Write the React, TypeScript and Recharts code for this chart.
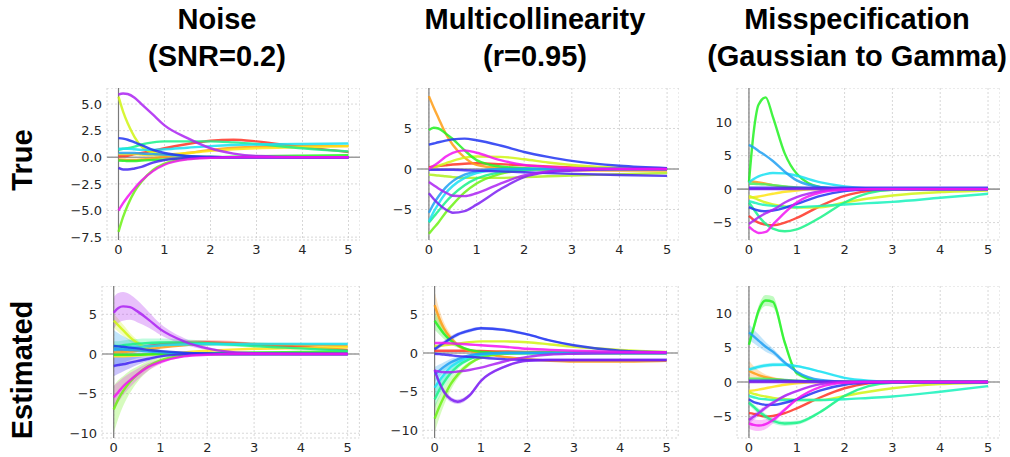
import {
  Area,
  CartesianGrid,
  ComposedChart,
  Line,
  ReferenceLine,
  XAxis,
  YAxis,
} from "recharts";

// shared time grid (x axis)
const xs = [0, 0.1, 0.2, 0.35, 0.5, 0.75, 1, 1.5, 2, 2.5, 3, 4, 5];
const xTicks = [0, 1, 2, 3, 4, 5];

const colTitles = [
  ["Noise", "(SNR=0.2)"],
  ["Multicollinearity", "(r=0.95)"],
  ["Misspecification", "(Gaussian to Gamma)"],
];
const rowTitles = ["True", "Estimated"];

// Noise, true
const noiseTrue: Record<string, number[]> = {
  red: [0.1, 0.12, 0.15, 0.3, 0.4, 0.6, 0.85, 1.25, 1.55, 1.65, 1.5, 0.95, 0.5],
  orange: [-0.2, -0.22, -0.25, -0.25, -0.2, -0.1, 0.05, 0.4, 0.7, 0.9, 1.0, 1.05, 1.05],
  yellow: [0.3, 0.3, 0.3, 0.3, 0.25, 0.2, 0.25, 0.4, 0.6, 0.75, 0.85, 0.95, 1.05],
  yellowgreen: [5.7, 4.3, 3.2, 1.9, 1.0, 0.45, 0.25, 0.1, 0.05, 0, 0, 0, 0],
  lime: [-7.0, -5.6, -4.5, -3.2, -2.3, -1.2, -0.6, -0.15, 0, 0, 0, 0, 0],
  green: [-0.3, -0.32, -0.35, -0.35, -0.3, -0.25, -0.2, -0.1, 0, 0.05, 0.1, 0.15, 0.2],
  spring: [0.7, 0.8, 0.85, 1.0, 1.2, 1.4, 1.5, 1.5, 1.5, 1.4, 1.25, 0.85, 0.55],
  cyan: [0.8, 0.8, 0.8, 0.75, 0.7, 0.7, 0.75, 0.9, 1.05, 1.15, 1.2, 1.25, 1.3],
  sky: [0.4, 0.4, 0.4, 0.4, 0.35, 0.3, 0.25, 0.1, 0.05, 0, 0, 0, 0],
  blue: [1.8, 1.75, 1.65, 1.4, 1.15, 0.7, 0.4, 0.12, 0.03, 0, 0, 0, 0],
  indigo: [-1.0, -1.15, -1.15, -1.05, -0.9, -0.5, -0.25, -0.05, 0, 0, 0, 0, 0],
  purple: [5.9, 6.0, 5.95, 5.6, 5.0, 4.0, 3.0, 1.8, 0.85, 0.35, 0.12, 0.02, 0],
  magenta: [-5.0, -4.3, -3.7, -2.9, -2.2, -1.3, -0.7, -0.2, -0.05, 0, 0, 0, 0],
};

// Multicollinearity, true
const multiTrue: Record<string, number[]> = {
  red: [0.2, 0.3, 0.35, 0.45, 0.55, 0.65, 0.7, 0.6, 0.45, 0.3, 0.2, 0.05, 0],
  orange: [9.0, 7.6, 6.3, 4.4, 3.0, 1.4, 0.5, 0.1, 0, -0.1, -0.15, -0.2, -0.2],
  yellowgreen: [0, 0.2, 0.4, 0.7, 1.0, 1.4, 1.55, 1.5, 1.2, 0.8, 0.5, 0.15, 0],
  chartreuse: [-0.7, -0.75, -0.8, -0.9, -1.0, -1.1, -1.1, -1.1, -1.0, -0.9, -0.8, -0.65, -0.5],
  lime: [-8.0, -7.3, -6.6, -5.4, -4.4, -2.9, -1.8, -0.6, -0.15, 0, 0, 0, 0],
  green: [4.8, 5.1, 5.0, 4.4, 3.7, 2.3, 1.1, 0.3, 0.1, 0, 0, 0, 0],
  spring: [-6.6, -5.9, -5.2, -4.1, -3.2, -2.0, -1.2, -0.4, -0.1, 0, 0, 0, 0],
  cyan: [-6.5, -5.3, -4.3, -3.0, -2.1, -1.1, -0.5, -0.1, 0, 0, 0, 0, 0],
  sky: [-5.4, -4.3, -3.4, -2.3, -1.5, -0.7, -0.3, 0, 0, 0, 0, 0, 0],
  blue: [3.0, 3.15, 3.3, 3.5, 3.65, 3.75, 3.55, 2.9, 2.1, 1.5, 1.0, 0.4, 0.1],
  indigo: [-0.1, -0.1, -0.1, -0.1, -0.1, -0.15, -0.2, -0.3, -0.4, -0.5, -0.6, -0.75, -0.85],
  violet: [-3.0, -3.7, -4.3, -5.0, -5.4, -5.2, -4.4, -2.5, -1.0, -0.4, -0.2, 0, 0],
  purple: [-1.6, -2.0, -2.4, -2.9, -3.3, -3.35, -3.0, -1.8, -0.8, -0.3, -0.1, 0, 0],
  magenta: [0, 0.4, 0.8, 1.5, 2.0, 2.3, 2.0, 1.1, 0.5, 0.25, 0.1, 0, 0],
};

// Misspecification, true
const misTrue: Record<string, number[]> = {
  red: [-4.0, -4.6, -5.0, -5.3, -5.4, -5.0, -4.3, -2.5, -1.0, -0.3, -0.1, 0, 0],
  orange: [1.2, 1.1, 1.0, 0.8, 0.6, 0.35, 0.15, 0, 0, 0, 0, 0, 0],
  yellow: [-1.3, -1.2, -1.1, -0.9, -0.7, -0.4, -0.2, 0, 0, 0, 0, 0, 0],
  yellowgreen: [-1.0, -1.3, -1.6, -2.0, -2.3, -2.6, -2.75, -2.7, -2.0, -1.4, -0.95, -0.45, -0.2],
  green: [1.0, 8.6, 12.6, 13.7, 10.8, 5.3, 2.3, 0.3, 0.05, 0, 0, 0, 0],
  lightgreen: [0.8, 0.8, 0.75, 0.7, 0.6, 0.4, 0.25, 0.05, 0, 0, 0, 0, 0],
  spring: [-2.0, -3.0, -4.0, -5.2, -5.9, -6.3, -6.0, -4.2, -2.0, -0.6, -0.1, 0, 0],
  teal: [-1.8, -2.0, -2.2, -2.4, -2.5, -2.65, -2.7, -2.5, -2.3, -2.1, -1.9, -1.3, -0.7],
  cyan: [1.0, 1.5, 1.9, 2.25, 2.4, 2.35, 2.0, 1.0, 0.4, 0.1, 0, 0, 0],
  sky: [6.6, 6.2, 5.7, 5.0, 4.2, 2.6, 1.3, 0.3, 0.05, 0, 0, 0, 0],
  blue: [-2.7, -3.0, -3.2, -3.3, -3.2, -2.8, -2.2, -1.0, -0.3, -0.05, 0, 0, 0],
  indigo: [0.2, 0.2, 0.2, 0.2, 0.2, 0.2, 0.2, 0.2, 0.2, 0.2, 0.2, 0.2, 0.2],
  violet: [0, 0, 0, 0, 0, 0, 0, 0, 0, 0, 0, 0, 0],
  purple: [-5.2, -4.7, -4.2, -3.6, -3.1, -2.0, -1.2, -0.3, 0, 0, 0, 0, 0],
  magenta: [-5.6, -6.2, -6.55, -6.4, -5.3, -3.5, -2.0, -0.5, -0.1, 0, 0, 0, 0],
};

// Noise, estimated
const noiseEst: Record<string, number[]> = {
  red: [0.5, 0.55, 0.6, 0.7, 0.8, 1.0, 1.2, 1.4, 1.45, 1.4, 1.2, 0.9, 0.5],
  orange: [0.2, 0.2, 0.25, 0.3, 0.4, 0.6, 0.8, 1.1, 1.25, 1.3, 1.25, 1.15, 1.0],
  yellow: [-0.3, -0.3, -0.3, -0.25, -0.2, -0.1, 0, 0.2, 0.4, 0.55, 0.65, 0.75, 0.85],
  yellowgreen: [4.2, 3.6, 3.0, 2.1, 1.4, 0.6, 0.3, 0.1, 0, 0, 0, 0, 0],
  lime: [-7.0, -5.7, -4.7, -3.5, -2.6, -1.5, -0.8, -0.2, 0, 0, 0, 0, 0],
  green: [-0.1, -0.1, -0.1, -0.1, -0.1, -0.05, 0, 0.05, 0.1, 0.15, 0.2, 0.25, 0.3],
  spring: [1.0, 1.0, 1.1, 1.2, 1.3, 1.4, 1.45, 1.45, 1.35, 1.2, 1.0, 0.7, 0.4],
  cyan: [0.5, 0.6, 0.65, 0.75, 0.85, 1.0, 1.1, 1.2, 1.25, 1.25, 1.25, 1.25, 1.25],
  sky: [0.6, 0.6, 0.55, 0.5, 0.45, 0.3, 0.2, 0.05, 0, 0, 0, 0, 0],
  blue: [1.0, 0.95, 0.9, 0.8, 0.7, 0.5, 0.35, 0.15, 0.05, 0, 0, 0, 0],
  indigo: [-1.5, -1.4, -1.3, -1.1, -0.9, -0.6, -0.3, -0.05, 0, 0, 0, 0, 0],
  purple: [5.2, 5.8, 6.0, 5.9, 5.4, 4.3, 3.1, 1.6, 0.7, 0.25, 0.08, 0, 0],
  magenta: [-5.5, -4.8, -4.1, -3.3, -2.6, -1.6, -1.0, -0.3, -0.1, 0, 0, 0, 0],
};
const noiseSpread: Record<string, number[]> = {
  red: [0.3, 0.3, 0.3, 0.3, 0.3, 0.3, 0.3, 0.3, 0.3, 0.25, 0.2, 0.15, 0.1],
  yellowgreen: [0.9, 0.8, 0.7, 0.55, 0.4, 0.25, 0.15, 0.05, 0, 0, 0, 0, 0],
  lime: [3.0, 2.4, 1.9, 1.4, 1.0, 0.6, 0.35, 0.1, 0.05, 0, 0, 0, 0],
  spring: [0.6, 0.6, 0.6, 0.6, 0.6, 0.55, 0.5, 0.4, 0.3, 0.25, 0.2, 0.15, 0.1],
  cyan: [0.4, 0.4, 0.4, 0.35, 0.35, 0.3, 0.3, 0.25, 0.2, 0.2, 0.15, 0.15, 0.15],
  sky: [2.4, 2.0, 1.7, 1.3, 1.0, 0.6, 0.35, 0.1, 0.05, 0, 0, 0, 0],
  indigo: [1.3, 1.1, 0.9, 0.7, 0.5, 0.3, 0.15, 0.05, 0, 0, 0, 0, 0],
  purple: [2.0, 1.9, 1.8, 1.6, 1.4, 1.0, 0.7, 0.4, 0.2, 0.1, 0.05, 0, 0],
  magenta: [1.5, 1.3, 1.1, 0.9, 0.7, 0.45, 0.3, 0.1, 0.05, 0, 0, 0, 0],
};

// Multicollinearity, estimated
const multiEst: Record<string, number[]> = {
  red: [0.3, 0.3, 0.3, 0.3, 0.3, 0.3, 0.25, 0.2, 0.15, 0.1, 0.05, 0, 0],
  orange: [6.2, 4.5, 3.2, 1.9, 1.0, 0.3, 0, -0.5, -0.8, -1.0, -1.1, -1.1, -1.0],
  yellowgreen: [0.9, 0.9, 1.0, 1.1, 1.2, 1.4, 1.5, 1.5, 1.4, 1.1, 0.8, 0.4, 0.15],
  lime: [-8.5, -7.0, -5.7, -4.0, -2.8, -1.4, -0.6, -0.1, 0, 0, 0, 0, 0],
  green: [4.2, 3.3, 2.5, 1.6, 1.0, 0.4, 0.15, 0, 0, 0, 0, 0, 0],
  spring: [-6.0, -4.8, -3.8, -2.6, -1.7, -0.8, -0.3, 0, 0, 0, 0, 0, 0],
  cyan: [-4.5, -3.6, -2.8, -1.8, -1.2, -0.5, -0.2, 0, 0, 0, 0, 0, 0],
  sky: [-2.8, -2.3, -1.8, -1.2, -0.8, -0.3, -0.1, 0, 0, 0, 0, 0, 0],
  blue: [0.5, 0.9, 1.3, 1.9, 2.4, 2.9, 3.2, 3.0, 2.4, 1.6, 1.0, 0.3, 0.1],
  indigo: [-0.1, -0.15, -0.2, -0.3, -0.4, -0.5, -0.6, -0.8, -0.9, -0.9, -0.9, -0.9, -0.9],
  violet: [-2.2, -3.8, -5.0, -6.0, -6.3, -5.5, -3.6, -1.8, -1.0, -0.9, -0.9, -0.9, -0.9],
  purple: [-2.3, -2.4, -2.5, -2.5, -2.4, -2.2, -1.9, -1.1, -0.5, -0.2, -0.1, 0, 0],
  magenta: [1.3, 1.3, 1.3, 1.25, 1.2, 1.1, 1.0, 0.8, 0.55, 0.4, 0.3, 0.15, 0.1],
};
const multiSpread: Record<string, number[]> = {
  orange: [1.8, 1.2, 0.8, 0.5, 0.3, 0.15, 0.1, 0.1, 0.1, 0.1, 0.1, 0.1, 0.1],
  lime: [1.8, 1.4, 1.1, 0.8, 0.5, 0.3, 0.15, 0.05, 0, 0, 0, 0, 0],
  green: [1.2, 0.9, 0.7, 0.5, 0.3, 0.15, 0.05, 0, 0, 0, 0, 0, 0],
  spring: [1.2, 1.0, 0.8, 0.6, 0.4, 0.2, 0.1, 0, 0, 0, 0, 0, 0],
  cyan: [1.2, 1.0, 0.8, 0.6, 0.4, 0.2, 0.1, 0, 0, 0, 0, 0, 0],
  sky: [1.0, 0.8, 0.6, 0.45, 0.3, 0.15, 0.05, 0, 0, 0, 0, 0, 0],
  blue: [0.3, 0.3, 0.3, 0.3, 0.25, 0.25, 0.2, 0.2, 0.15, 0.1, 0.1, 0.05, 0.05],
  violet: [0.4, 0.4, 0.4, 0.35, 0.3, 0.25, 0.2, 0.15, 0.1, 0.05, 0.05, 0.05, 0.05],
};

// Misspecification, estimated
const misEst: Record<string, number[]> = {
  red: [-4.5, -4.6, -4.8, -5.0, -4.9, -4.5, -3.8, -2.2, -0.9, -0.2, 0, 0, 0],
  orange: [1.6, 1.3, 1.0, 0.7, 0.5, 0.25, 0.1, 0, 0, 0, 0, 0, 0],
  yellow: [-1.3, -1.2, -1.1, -0.9, -0.7, -0.4, -0.2, 0, 0, 0, 0, 0, 0],
  yellowgreen: [-1.5, -1.7, -1.9, -2.1, -2.3, -2.5, -2.6, -2.6, -2.0, -1.4, -0.9, -0.3, -0.1],
  green: [5.4, 7.9, 10.3, 11.8, 11.6, 5.7, 1.3, 0.1, 0, 0, 0, 0, 0],
  lightgreen: [0.5, 0.5, 0.5, 0.45, 0.4, 0.3, 0.2, 0.05, 0, 0, 0, 0, 0],
  spring: [-3.0, -3.6, -4.2, -5.0, -5.6, -6.0, -5.9, -4.3, -2.0, -0.6, -0.1, 0, 0],
  teal: [-2.0, -2.2, -2.4, -2.5, -2.6, -2.6, -2.6, -2.6, -2.5, -2.3, -2.1, -1.4, -0.6],
  cyan: [1.8, 2.0, 2.2, 2.4, 2.5, 2.5, 2.3, 1.5, 0.6, 0.2, 0.05, 0, 0],
  sky: [7.2, 6.6, 6.0, 5.1, 4.4, 2.8, 1.5, 0.3, 0.05, 0, 0, 0, 0],
  blue: [-2.5, -2.9, -3.1, -3.3, -3.3, -3.0, -2.5, -1.2, -0.4, -0.1, 0, 0, 0],
  indigo: [0.2, 0.2, 0.2, 0.2, 0.2, 0.2, 0.15, 0.1, 0.05, 0, 0, 0, 0],
  violet: [0, 0, 0, 0, 0, 0, 0, 0, 0, 0, 0, 0, 0],
  purple: [-5.5, -5.0, -4.5, -3.7, -3.0, -2.0, -1.3, -0.3, 0, 0, 0, 0, 0],
  magenta: [-6.0, -6.2, -6.3, -6.1, -5.5, -4.0, -2.5, -0.7, -0.1, 0, 0, 0, 0],
};
const misSpread: Record<string, number[]> = {
  orange: [1.5, 1.0, 0.7, 0.4, 0.25, 0.1, 0.05, 0, 0, 0, 0, 0, 0],
  green: [0.5, 0.6, 0.7, 0.8, 0.8, 0.5, 0.3, 0.1, 0, 0, 0, 0, 0],
  spring: [0.4, 0.4, 0.4, 0.4, 0.4, 0.35, 0.3, 0.2, 0.1, 0.05, 0, 0, 0],
  cyan: [0.3, 0.3, 0.3, 0.3, 0.3, 0.25, 0.2, 0.1, 0.05, 0, 0, 0, 0],
  sky: [1.2, 1.0, 0.9, 0.7, 0.5, 0.3, 0.15, 0.05, 0, 0, 0, 0, 0],
  purple: [0.5, 0.45, 0.4, 0.35, 0.3, 0.2, 0.1, 0.05, 0, 0, 0, 0, 0],
  magenta: [0.8, 0.8, 0.8, 0.7, 0.5, 0.3, 0.15, 0.05, 0, 0, 0, 0, 0],
};

const palette: Record<string, string> = {
  red: "#ff3224",
  orange: "#ff9c14",
  yellow: "#ffe414",
  yellowgreen: "#d0f514",
  chartreuse: "#aef020",
  lime: "#6cf214",
  green: "#22f222",
  lightgreen: "#48f062",
  spring: "#18f288",
  teal: "#18f2bc",
  cyan: "#18e0f2",
  sky: "#20a0f2",
  blue: "#2034f2",
  indigo: "#4226f2",
  violet: "#7c1ef2",
  purple: "#ac22f2",
  magenta: "#f214f2",
};

const fmt = (d: number) => (v: number) => v.toFixed(d).replace("-", "\u2212");

function Panel({
  left,
  top,
  plotWidth,
  yDomain,
  yTicks,
  decimals = 0,
  values,
  spreads,
}: {
  left: number;
  top: number;
  plotWidth: number;
  yDomain: [number, number];
  yTicks: number[];
  decimals?: number;
  values: Record<string, number[]>;
  spreads?: Record<string, number[]>;
}) {
  const axisW = 48;
  const plotH = 152;
  const keys = Object.keys(values);
  const bandKeys = spreads ? Object.keys(spreads) : [];
  const rows = xs.map((x, i) => {
    const row: Record<string, number | number[]> = { x };
    keys.forEach((k) => (row[k] = values[k][i]));
    bandKeys.forEach((k) => {
      const s = spreads![k][i];
      row[k + "_band"] = [values[k][i] - s, values[k][i] + s];
    });
    return row;
  });
  const tick = { fontSize: 13, fill: "#262626", fontFamily: "DejaVu Sans" };
  return (
    <div style={{ position: "absolute", left: left - axisW, top }}>
      <ComposedChart
        width={axisW + plotWidth}
        height={plotH + 26}
        data={rows}
        margin={{ top: 0, right: 0, bottom: 0, left: 0 }}
      >
        <CartesianGrid stroke="#cdcdcd" strokeDasharray="2 2" strokeWidth={0.8} />
        <XAxis
          dataKey="x"
          type="number"
          domain={[-0.25, 5.25]}
          ticks={xTicks}
          allowDataOverflow
          axisLine={false}
          tickLine={false}
          tickSize={0}
          tickMargin={5}
          height={26}
          tick={tick}
        />
        <YAxis
          type="number"
          domain={yDomain}
          ticks={yTicks}
          allowDataOverflow
          axisLine={false}
          tickLine={false}
          tickSize={0}
          tickMargin={5}
          width={axisW}
          tick={tick}
          tickFormatter={fmt(decimals)}
        />
        <ReferenceLine y={0} stroke="#9c9c9c" strokeWidth={1.6} />
        <ReferenceLine x={0} stroke="#7a7a7a" strokeWidth={1.2} />
        {bandKeys.map((k) => (
          <Area
            key={k + "_band"}
            dataKey={k + "_band"}
            type="monotone"
            stroke="none"
            fill={palette[k]}
            fillOpacity={0.28}
            isAnimationActive={false}
          />
        ))}
        {keys.map((k) => (
          <Line
            key={k}
            dataKey={k}
            type="monotone"
            stroke={palette[k]}
            strokeOpacity={0.85}
            strokeWidth={2.4}
            dot={false}
            activeDot={false}
            isAnimationActive={false}
          />
        ))}
      </ComposedChart>
    </div>
  );
}

const titleFont: React.CSSProperties = {
  fontFamily: "Liberation Sans, Arial, sans-serif",
  fontWeight: "bold",
  fontSize: 29,
  color: "#000",
};

export default function App() {
  const colCenters = [217, 535, 857];
  const rowCenters = [160, 370];
  return (
    <div
      style={{
        position: "absolute",
        left: 0,
        top: 0,
        width: 1010,
        height: 457,
        background: "#fff",
        overflow: "hidden",
      }}
    >
      {colTitles.map((t, i) => (
        <div
          key={i}
          style={{
            ...titleFont,
            position: "absolute",
            left: colCenters[i] - 200,
            width: 400,
            top: 1,
            textAlign: "center",
            lineHeight: "37px",
          }}
        >
          {t[0]}
          <br />
          {t[1]}
        </div>
      ))}
      {rowTitles.map((t, i) => (
        <div
          key={t}
          style={{
            ...titleFont,
            position: "absolute",
            left: 22 - 100,
            top: rowCenters[i] - 18,
            width: 200,
            height: 36,
            lineHeight: "36px",
            textAlign: "center",
            transform: "rotate(-90deg)",
          }}
        >
          {t}
        </div>
      ))}
      <Panel left={106.5} top={88} plotWidth={253} yDomain={[-7.77, 6.51]} yTicks={[-7.5, -5, -2.5, 0, 2.5, 5]} decimals={1} values={noiseTrue} />
      <Panel left={417} top={88} plotWidth={262} yDomain={[-8.77, 10.0]} yTicks={[-5, 0, 5]} values={multiTrue} />
      <Panel left={737} top={88} plotWidth={263} yDomain={[-7.6, 15.1]} yTicks={[-5, 0, 5, 10]} values={misTrue} />
      <Panel left={102.3} top={286} plotWidth={257.4} yDomain={[-10.6, 8.57]} yTicks={[-10, -5, 0, 5]} values={noiseEst} spreads={noiseSpread} />
      <Panel left={423.4} top={286} plotWidth={255.2} yDomain={[-11.0, 8.67]} yTicks={[-10, -5, 0, 5]} values={multiEst} spreads={multiSpread} />
      <Panel left={737} top={286} plotWidth={263} yDomain={[-8.1, 13.9]} yTicks={[-5, 0, 5, 10]} values={misEst} spreads={misSpread} />
    </div>
  );
}
